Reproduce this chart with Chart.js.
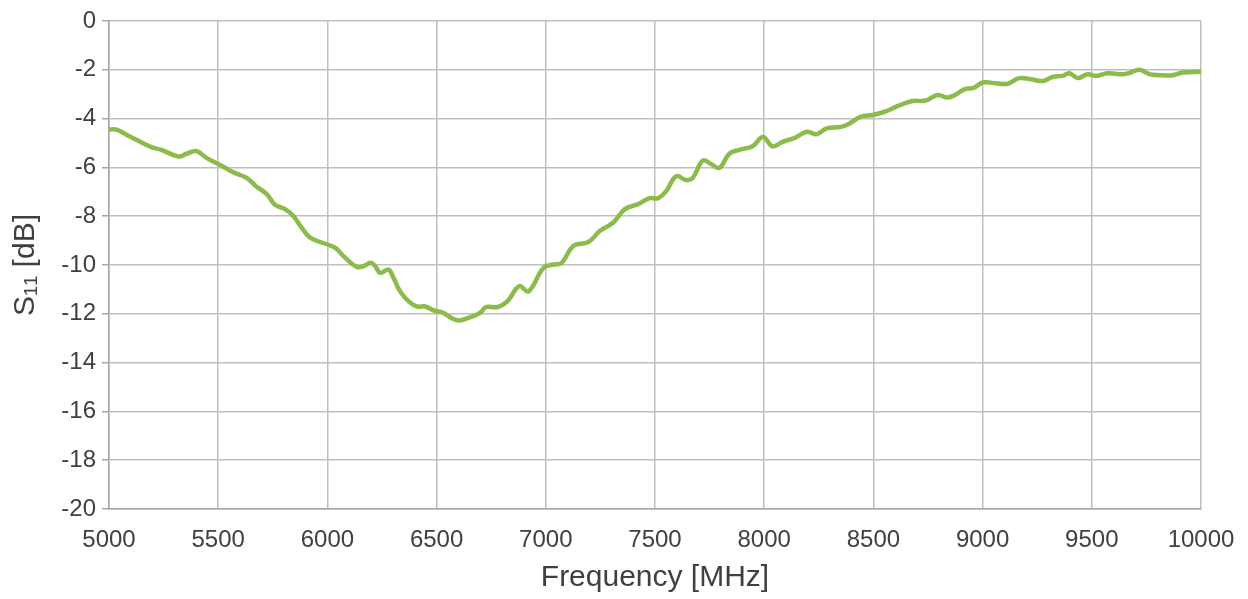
<!DOCTYPE html>
<html>
<head>
<meta charset="utf-8">
<script src="https://cdn.jsdelivr.net/npm/chart.js@4.4.1/dist/chart.umd.min.js"></script>
<style>
    html, body { margin: 0; padding: 0; background: #fff; }
    #wrap { width: 1248px; height: 599px; position: relative; }
</style>
</head>
<body>
<div id="wrap"><canvas id="s11Chart"></canvas></div>
<script>
// Frequency points [MHz]
var freqMHz = [5000, 5034, 5080, 5125, 5194, 5240, 5317, 5355, 5400, 5446,
    5500, 5569, 5630, 5676, 5722, 5760, 5806, 5844, 5882, 5921,
    5997, 6035, 6081, 6135, 6165, 6199, 6219, 6242, 6280, 6303,
    6333, 6372, 6410, 6448, 6486, 6533, 6570, 6605, 6660, 6700,
    6728, 6780, 6825, 6878, 6921, 6989, 7035, 7073, 7126, 7195,
    7248, 7309, 7362, 7422, 7476, 7514, 7552, 7597, 7643, 7673,
    7719, 7757, 7795, 7840, 7886, 7947, 7995, 8038, 8084, 8140,
    8195, 8240, 8286, 8351, 8389, 8443, 8496, 8557, 8618, 8679,
    8740, 8794, 8840, 8878, 8916, 8962, 9000, 9061, 9115, 9168,
    9221, 9275, 9321, 9366, 9397, 9435, 9481, 9519, 9573, 9641,
    9679, 9718, 9763, 9809, 9870, 9916, 10000];

// S11 [dB]
var s11dB = [-4.45, -4.45, -4.66, -4.87, -5.17, -5.28, -5.55, -5.44, -5.33, -5.61,
    -5.86, -6.20, -6.43, -6.79, -7.09, -7.53, -7.71, -7.99, -8.47, -8.88,
    -9.15, -9.29, -9.70, -10.08, -10.05, -9.91, -10.05, -10.32, -10.19, -10.53,
    -11.08, -11.49, -11.70, -11.70, -11.86, -11.97, -12.18, -12.27, -12.12, -11.95,
    -11.72, -11.72, -11.48, -10.87, -11.08, -10.12, -9.98, -9.91, -9.22, -9.06,
    -8.60, -8.26, -7.71, -7.51, -7.26, -7.26, -6.96, -6.36, -6.52, -6.43,
    -5.72, -5.86, -6.02, -5.44, -5.28, -5.13, -4.75, -5.14, -4.95, -4.79,
    -4.54, -4.64, -4.40, -4.34, -4.21, -3.92, -3.85, -3.70, -3.46, -3.28,
    -3.26, -3.03, -3.14, -3.01, -2.80, -2.73, -2.52, -2.55, -2.57, -2.34,
    -2.39, -2.46, -2.29, -2.25, -2.14, -2.34, -2.18, -2.25, -2.14, -2.18,
    -2.11, -2.00, -2.18, -2.22, -2.22, -2.11, -2.08];

var xTicks = [5000, 5500, 6000, 6500, 7000, 7500, 8000, 8500, 9000, 9500, 10000];
var yTicks = [0, -2, -4, -6, -8, -10, -12, -14, -16, -18, -20];

var xTitle = 'Frequency [MHz]';
var yTitle = 'S\u2081\u2081 [dB]';

var FONT = 'Liberation Sans, Arial, sans-serif';

initS11Chart();

function initS11Chart() {
    var ctx = document.getElementById('s11Chart');
    if (!ctx) return;
    ctx = ctx.getContext('2d');

    var pts = freqMHz.map(function (f, i) { return { x: f, y: s11dB[i] }; });

    new Chart(ctx, {
        type: 'line',
        data: {
            datasets: [{
                label: 'S11',
                data: pts,
                borderColor: '#8cbb4c',
                borderWidth: 4.5,
                pointRadius: 0,
                tension: 0.4,
                fill: false
            }]
        },
        options: {
            responsive: true,
            maintainAspectRatio: false,
            animation: false,
            layout: { padding: { left: 8, right: 47, top: 21, bottom: 3 } },
            plugins: {
                legend: { display: false },
                tooltip: { enabled: false }
            },
            scales: {
                x: {
                    type: 'linear',
                    min: xTicks[0],
                    max: xTicks[xTicks.length - 1],
                    afterBuildTicks: function (s) {
                        s.ticks = xTicks.map(function (v) { return { value: v }; });
                    },
                    afterFit: function (s) { s.height = 87; s.paddingRight = 0; },
                    grid: { color: '#bfbfbf', lineWidth: 1.5, drawTicks: false },
                    border: { color: '#a6a6a6', width: 1.5 },
                    ticks: {
                        padding: 17,
                        color: '#404040',
                        font: { family: FONT, size: 24 },
                        maxRotation: 0,
                        callback: function (v) { return v; }
                    },
                    title: {
                        display: true,
                        text: xTitle,
                        color: '#404040',
                        font: { family: FONT, size: 30 },
                        padding: { top: 0, bottom: 0 }
                    }
                },
                y: {
                    min: -20,
                    max: 0,
                    afterBuildTicks: function (s) {
                        s.ticks = yTicks.map(function (v) { return { value: v }; });
                    },
                    afterFit: function (s) { s.width = 101; },
                    grid: { color: '#bfbfbf', lineWidth: 1.5, tickLength: 7, tickColor: '#a6a6a6' },
                    border: { color: '#a6a6a6', width: 1.5 },
                    ticks: {
                        padding: 6,
                        color: '#404040',
                        font: { family: FONT, size: 24 }
                    },
                    title: {
                        display: true,
                        text: yTitle,
                        color: '#404040',
                        font: { family: FONT, size: 30 },
                        padding: { top: 0, bottom: 0 }
                    }
                }
            }
        }
    });
}
</script>
</body>
</html>
